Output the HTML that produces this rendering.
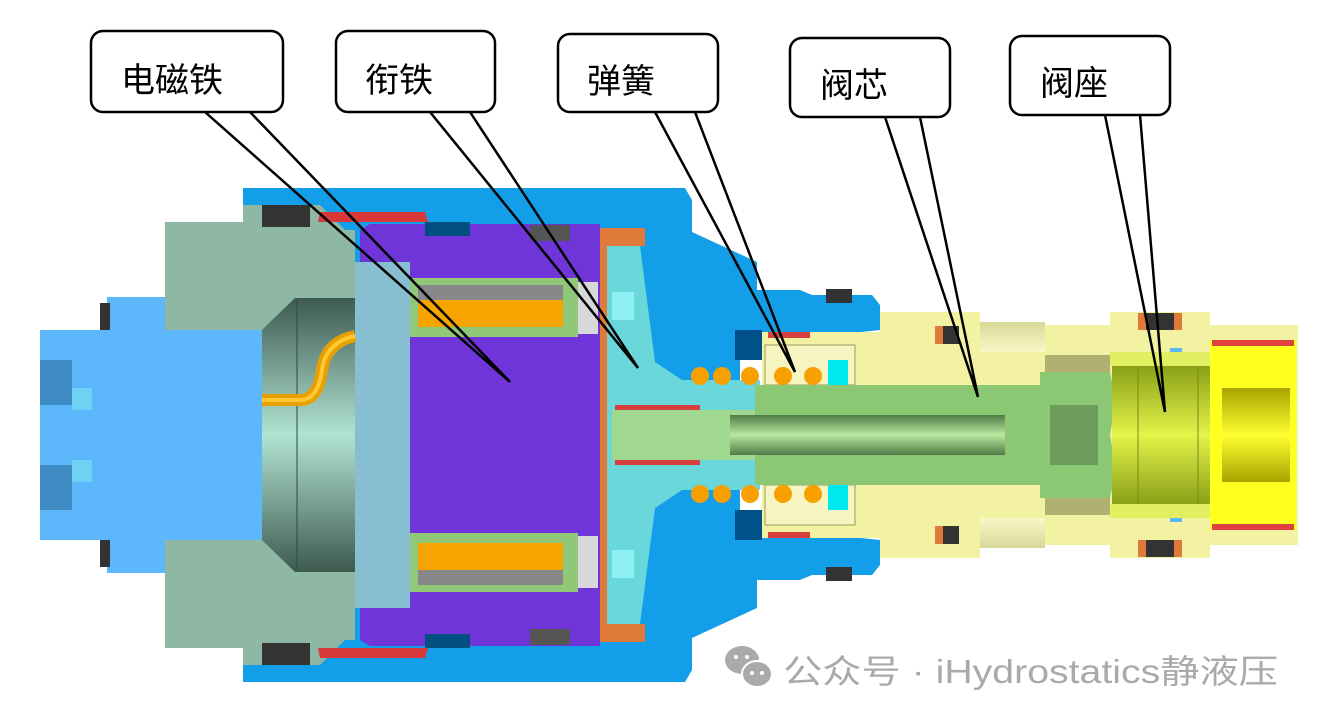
<!DOCTYPE html>
<html><head><meta charset="utf-8"><style>
html,body{margin:0;padding:0;background:#fff;}
svg{display:block;}
</style></head><body>
<svg width="1323" height="724" viewBox="0 0 1323 724" xmlns="http://www.w3.org/2000/svg">
<defs>
<linearGradient id="mint" x1="0" y1="0" x2="0" y2="1"><stop offset="0" stop-color="#3d5a50"/><stop offset="1" stop-color="#b2e4d2"/></linearGradient>
<linearGradient id="bore" x1="0" y1="0" x2="0" y2="1"><stop offset="0" stop-color="#4f7c46"/><stop offset="1" stop-color="#b8e8a0"/></linearGradient>
<linearGradient id="seat" x1="0" y1="0" x2="0" y2="1"><stop offset="0" stop-color="#8aa018"/><stop offset="1" stop-color="#e4f44a"/></linearGradient>
<linearGradient id="hex" x1="0" y1="0" x2="0" y2="1"><stop offset="0" stop-color="#a8a400"/><stop offset="1" stop-color="#ffff30"/></linearGradient>
<linearGradient id="groove" x1="0" y1="0" x2="0" y2="1"><stop offset="0" stop-color="#d8d898"/><stop offset="1" stop-color="#f8f8c8"/></linearGradient>
</defs>
<g id="h">
<polygon fill="#139ee9" points="243,188 685,188 692,200 692,232 757,262 757,290 800,290 812,295 872,295 880,305 880,330 740,345 740,435 243,435"/>
<rect x="40" y="330" width="225" height="105" fill="#5cb8fb"/>
<rect x="107" y="297" width="63" height="40" fill="#5cb8fb"/>
<rect x="100" y="303" width="10" height="27" fill="#333"/>
<rect x="40" y="360" width="32" height="45" fill="#3f8cc4"/>
<rect x="72" y="388" width="20" height="22" fill="#6ed2f4"/>
<polygon fill="#8fb8a4" points="165,222 243,222 243,205 320,205 345,230 355,230 355,298 295,298 262,330 165,330"/>
<rect x="262" y="205" width="48" height="22" fill="#333"/>
<polygon fill="#d83838" points="320,212 425,212 428,222 318,222"/>
<polygon fill="url(#mint)" points="295,298 355,298 355,435 262,435 262,330"/>
<line x1="297" y1="300" x2="297" y2="435" stroke="#2e4a40" stroke-width="1"/>
<rect x="355" y="262" width="55" height="173" fill="#88bfd0"/>
<polygon fill="#6f35d9" points="360,230 370,224 600,224 600,435 410,435 410,262 360,262"/>
<rect x="425" y="222" width="45" height="14" fill="#004f80"/>
<rect x="530" y="225" width="40" height="16" fill="#555"/>
<rect x="410" y="278" width="168" height="59" fill="#90c878"/>
<rect x="418" y="285" width="145" height="15" fill="#888"/>
<rect x="418" y="300" width="145" height="27" fill="#f8a400"/>
<rect x="578" y="282" width="20" height="52" fill="#d8d8d8"/>
<rect x="600" y="228" width="7" height="207" fill="#e07a3a"/>
<rect x="600" y="228" width="45" height="18" fill="#e07a3a"/>
<polygon fill="#6ad8da" points="607,246 640,246 655,362 682,380 760,380 760,435 607,435"/>
<rect x="612" y="292" width="22" height="28" fill="#8ef0f4"/>
<rect x="615" y="405" width="85" height="5" fill="#d84040"/>
<rect x="612" y="410" width="148" height="25" fill="#a0d890"/>
<rect x="735" y="330" width="27" height="30" fill="#00508a"/>
<rect x="826" y="289" width="26" height="14" fill="#333"/>
<polygon fill="#f2f2a2" points="762,332 880,332 880,312 980,312 980,325 1110,325 1110,312 1210,312 1210,325 1298,325 1298,435 762,435"/>
<rect x="768" y="332" width="42" height="6" fill="#d84040"/>
<rect x="765" y="345" width="90" height="40" fill="#f6f4c0" stroke="#9a9a60" stroke-width="1"/>
<rect x="935" y="326" width="8" height="18" fill="#e07a3a"/>
<rect x="943" y="326" width="16" height="18" fill="#333"/>
<rect x="980" y="322" width="65" height="30" fill="url(#groove)"/>
<rect x="1045" y="355" width="65" height="18" fill="#b0b070"/>
<rect x="1138" y="313" width="8" height="17" fill="#e07a3a"/>
<rect x="1146" y="313" width="28" height="17" fill="#333"/>
<rect x="1174" y="313" width="8" height="17" fill="#e07a3a"/>
<rect x="1170" y="348" width="12" height="12" fill="#5cb8fb"/>
<circle cx="700" cy="376" r="9" fill="#f8a000"/>
<circle cx="722" cy="376" r="9" fill="#f8a000"/>
<circle cx="750" cy="376" r="9" fill="#f8a000"/>
<circle cx="783" cy="376" r="9" fill="#f8a000"/>
<circle cx="813" cy="376" r="9" fill="#f8a000"/>
<rect x="828" y="360" width="20" height="26" fill="#00e8f0"/>
<polygon fill="#8cc874" points="755,385 1040,385 1040,372 1110,372 1116,400 1110,435 755,435"/>
<rect x="730" y="415" width="275" height="20" fill="url(#bore)"/>
<rect x="1050" y="405" width="48" height="30" fill="#6c9c5c"/>
<rect x="1110" y="352" width="100" height="14" fill="#e0f060"/>
<rect x="1112" y="366" width="98" height="69" fill="url(#seat)"/>
<line x1="1138" y1="366" x2="1138" y2="435" stroke="#7a8a10"/>
<line x1="1198" y1="366" x2="1198" y2="435" stroke="#7a8a10"/>
<rect x="1210" y="340" width="86" height="95" fill="#ffff20"/>
<rect x="1212" y="340" width="82" height="6" fill="#e04040"/>
<rect x="1222" y="388" width="68" height="47" fill="url(#hex)"/>
</g>
<use href="#h" transform="matrix(1 0 0 -1 0 870)"/>
<path d="M262,400 L300,400 Q318,400 322,370 Q326,342 355,336" fill="none" stroke="#e8a000" stroke-width="12"/>
<path d="M262,400 L300,400 Q318,400 322,370 Q326,342 355,336" fill="none" stroke="#ffc830" stroke-width="4"/>
<g stroke="#000" stroke-width="2.5" fill="none">
<path d="M205,112 L510,382 L250,112"/>
<path d="M430,112 L638,368 L470,112"/>
<path d="M655,112 L795,372 L695,112"/>
<path d="M885,117 L978,397 L920,117"/>
<path d="M1105,115 L1165,412 L1140,115"/>
</g>
<g fill="#fff" stroke="#000" stroke-width="2.5">
<rect x="91" y="31" width="192" height="81" rx="12"/>
<rect x="336" y="31" width="159" height="81" rx="12"/>
<rect x="558" y="34" width="160" height="78" rx="12"/>
<rect x="790" y="38" width="160" height="79" rx="12"/>
<rect x="1010" y="36" width="160" height="79" rx="12"/>
</g>
<g font-family="'Liberation Sans','Noto Sans CJK SC',sans-serif" font-size="34" fill="#000">
<text x="121" y="92">电磁铁</text>
<text x="365" y="92">衔铁</text>
<text x="587" y="93">弹簧</text>
<text x="820" y="97">阀芯</text>
<text x="1040" y="95">阀座</text>
</g>
<g fill="#aaa">
<ellipse cx="742" cy="660" rx="17" ry="14"/>
<ellipse cx="757" cy="674" rx="15" ry="13" stroke="#fff" stroke-width="2"/>
<circle cx="736" cy="657" r="2" fill="#fff"/><circle cx="747" cy="657" r="2" fill="#fff"/>
<circle cx="752" cy="673" r="2" fill="#fff"/><circle cx="762" cy="673" r="2" fill="#fff"/>
</g>
<text x="783" y="683" font-family="'Liberation Sans','Noto Sans CJK SC',sans-serif" font-size="33" fill="#aaa" textLength="495" lengthAdjust="spacingAndGlyphs">公众号 · iHydrostatics静液压</text>
</svg>
</body></html>
